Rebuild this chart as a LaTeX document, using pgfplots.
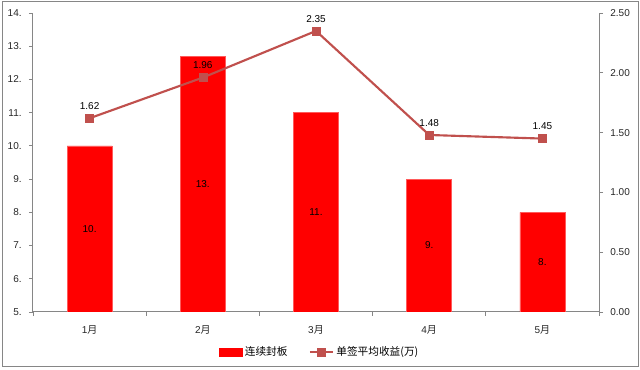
\documentclass[border=0pt]{standalone}
\usepackage{pgfplots}
\pgfplotsset{compat=1.18}
\usepackage{fontspec}
\setmainfont{Liberation Sans}
\newfontfamily\cjk{Noto Sans CJK SC}
\definecolor{lineR}{RGB}{192,80,77}
\definecolor{axgray}{RGB}{134,134,134}
\begin{document}
\begin{tikzpicture}
\useasboundingbox (-24.75pt,-43.5pt) rectangle (455.25pt,234pt);
\draw[axgray, line width=0.75pt] (-23.25pt,-41.25pt) rectangle (453.75pt,232.5pt);
\pgfplotsset{
  common/.style={
    scale only axis, width=424.5pt, height=224.25pt,
    xmin=-0.5, xmax=4.5,
    axis line style={axgray, line width=0.75pt},
    tick style={axgray, line width=0.6pt},
    tick align=outside,
    major tick length=3pt, minor tick length=3pt,
    ticklabel style={font=\fontsize{7.5}{9}\selectfont, text=black!85},
  }
}
\begin{axis}[
  common,
  ymin=5, ymax=14,
  axis x line*=bottom, axis y line*=left,
  xtick={0,...,4},
  xticklabels={{1\cjk 月},{2\cjk 月},{3\cjk 月},{4\cjk 月},{5\cjk 月}},
  major x tick style={draw=none},
  minor xtick={-0.5,0.5,1.5,2.5,3.5,4.5},
  xticklabel style={yshift=-4pt},
  ytick={5,...,14},
  yticklabels={5.,6.,7.,8.,9.,10.,11.,12.,13.,14.},
  yticklabel style={xshift=-2pt},
  ybar, bar width=33.75pt,
  visualization depends on={(rawy-5)*12.4583 \as \halfh},
  nodes near coords,
  point meta=explicit symbolic,
  every node near coord/.append style={anchor=center, yshift=-\halfh pt, font=\fontsize{7.5}{9}\selectfont, text=black},
]
\addplot[fill=red, draw={rgb,255:red,255;green,90;blue,90}, line width=0.4pt] coordinates {
  (0,10.0) [10.]
  (1,12.7) [13.]
  (2,11.0) [11.]
  (3,9.0) [9.]
  (4,8.0) [8.]
};
\end{axis}
\begin{axis}[
  common,
  ymin=0, ymax=2.5,
  axis y line*=right, axis x line=none,
  ytick={0,0.5,...,2.5},
  yticklabels={0.00,0.50,1.00,1.50,2.00,2.50},
  yticklabel style={xshift=2pt},
  legend style={at={(0.507,-0.134)}, anchor=center, draw=none, fill=none,
    legend columns=2, font=\fontsize{8}{10}\selectfont,
    /tikz/every even column/.append style={column sep=14pt},
    inner sep=0pt},
  legend cell align=left,
]
\addlegendimage{legend image code/.code={\fill[red] (0pt,-3pt) rectangle (17pt,3pt);}}
\addlegendentry{\cjk 连续封板}
\addplot[lineR, line width=1.6pt, mark=square*, mark size=3pt,
  mark options={solid, fill=lineR, draw=lineR, line width=0.4pt},
  nodes near coords, point meta=explicit symbolic,
  every node near coord/.append style={font=\fontsize{7.5}{9}\selectfont, text=black, yshift=3pt}]
  coordinates {
  (0,1.62) [1.62]
  (1,1.96) [1.96]
  (2,2.35) [2.35]
  (3,1.48) [1.48]
  (4,1.45) [1.45]
};
\addlegendentry{\cjk 单签平均收益(万)}
\end{axis}
\end{tikzpicture}
\end{document}
